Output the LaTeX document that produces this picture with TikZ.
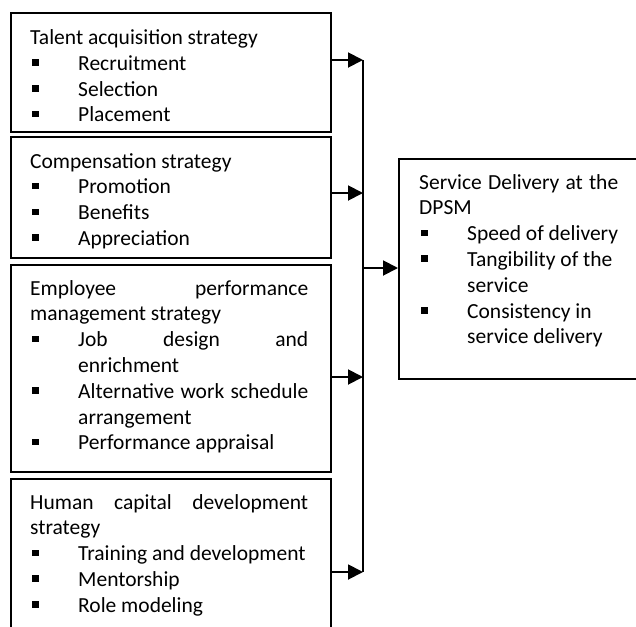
\documentclass[tikz,border=0pt]{standalone}
\usepackage{fontspec}
\setmainfont{Carlito}
\usetikzlibrary{arrows.meta}
\newlength\bulind \setlength\bulind{48pt}
\newcommand\blt{\hbox to \bulind{\hskip2pt\raise4.5pt\hbox{\vrule width 6.5pt height 6.5pt}\hfil}}
\newcommand\itm[1]{\par\noindent\blt #1}
\newcommand\cnt[1]{\par\noindent\hskip\bulind #1}
\newcommand\tln[1]{\par\noindent #1}
\newcommand\txtblock[2]{\vtop{\hsize=#1\parindent=0pt\rightskip=0pt plus 1fil\baselineskip=25.8pt\lineskiplimit=-100pt\lineskip=0pt #2\par}}
\tikzset{
  boxst/.style={draw, line width=1.9pt, inner sep=0pt, anchor=north west},
  txt/.style={anchor=base west, inner sep=0pt, font=\fontsize{21.5}{25.8}\selectfont},
  arr/.style={line width=1.9pt, -{Triangle[length=15pt, width=15pt]}},
  bus/.style={line width=1.9pt}
}
\begin{document}
\begin{tikzpicture}[x=1pt, y=-1pt]
\useasboundingbox (0,0) rectangle (636,626);
% boxes
\node[boxst, minimum width=320pt, minimum height=119pt] (b1) at (10,12) {};
\node[boxst, minimum width=320pt, minimum height=121pt] (b2) at (10,136) {};
\node[boxst, minimum width=320pt, minimum height=207pt] (b3) at (10,264) {};
\node[boxst, minimum width=320pt, minimum height=175pt] (b4) at (10,478) {};
\node[boxst, minimum width=260pt, minimum height=220pt] (sd) at (398,158) {};
% texts
\node[txt] (t1) at (30,44.5) {\txtblock{278pt}{%
\tln{Talent acquisition strategy}
\itm{Recruitment}
\itm{Selection}
\itm{Placement}}};
\node[txt] (t2) at (30,168) {\txtblock{278pt}{%
\tln{Compensation strategy}
\itm{Promotion}
\itm{Benefits}
\itm{Appreciation}}};
\node[txt] (t3) at (30,295) {\txtblock{278pt}{%
\tln{\hbox to \hsize{Employee\hfill performance}}
\tln{management strategy}
\itm{\hbox to 230pt{Job\hfill design\hfill and}}
\cnt{enrichment}
\itm{\hbox to 230pt{Alternative\hfill work\hfill schedule}}
\cnt{arrangement}
\itm{Performance appraisal}}};
\node[txt] (t4) at (30,509) {\txtblock{278pt}{%
\tln{\hbox to \hsize{Human\hfill capital\hfill development}}
\tln{strategy}
\itm{Training and development}
\itm{Mentorship}
\itm{Role modeling}}};
\node[txt] (t5) at (419,189) {\txtblock{210pt}{%
\tln{\hbox to 199pt{Service\hfill Delivery\hfill at\hfill the}}
\tln{DPSM}
\itm{Speed of delivery}
\itm{Tangibility of the}
\cnt{service}
\itm{Consistency in}
\cnt{service delivery}}};
% connectors
\coordinate (bt) at (363,60);
\coordinate (bb) at (363,572);
\coordinate (s1) at (b1.east |- bt);
\coordinate (s2) at (330,193);
\coordinate (s3) at (330,377);
\coordinate (s4) at (b4.east |- bb);
\coordinate (so) at (363,268);
\draw[bus] (bt) -- (bb);
\draw[arr] (s1) -- (bt);
\draw[arr] (s2) -- (s2 -| bt);
\draw[arr] (s3) -- (s3 -| bt);
\draw[arr] (s4) -- (bb);
\draw[arr] (so) -- (so -| sd.west);
\end{tikzpicture}
\end{document}
